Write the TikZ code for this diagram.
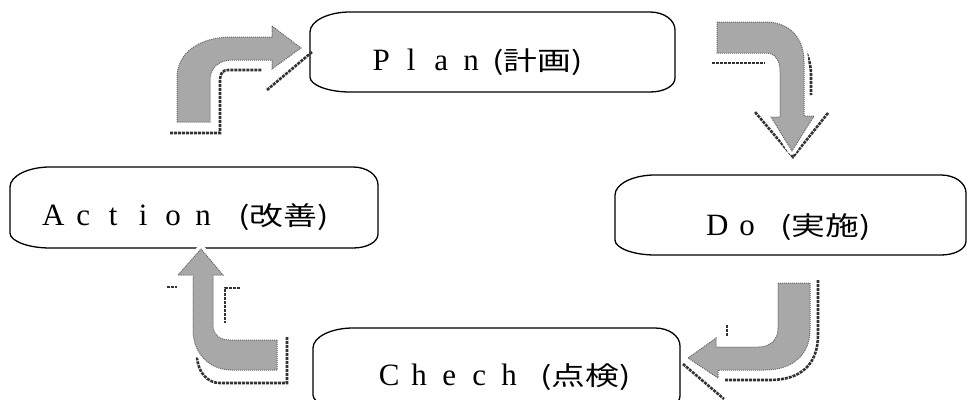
\documentclass[tikz,border=0pt]{standalone}
\usepackage{fontspec}
\usepackage{graphicx}
\setmainfont{Liberation Serif}
\newfontfamily\jp{Noto Sans CJK JP}
\newcommand\cel[1]{\makebox[30pt]{#1}}
\newcommand\kj[1]{{\jp\fontsize{26}{30}\selectfont\scalebox{1.3}[1]{#1}}}
\newcommand\capsule[4]{%
  \draw[boxline] (#1,#2+20) .. controls +(0,-11) and +(-22,0) .. (#1+40,#2)
    -- (#3-25,#2) .. controls +(14,0) and +(0,-10) .. (#3,#2+18)
    -- (#3,#4-14) .. controls +(0,8) and +(14,0) .. (#3-25,#4)
    -- (#1+40,#4) .. controls +(-22,0) and +(0,8) .. (#1,#4-15) -- cycle;}
\tikzset{
  boxline/.style={draw=black, line width=1.3pt, fill=white},
  lbl/.style={inner sep=0pt, anchor=base west, font=\fontsize{31}{34}\selectfont},
  shadowline/.style={draw=black!80, line width=2.6pt, dash pattern=on 3pt off 1pt},
  bigarrow/.style={fill=gray!68, draw=black!60, densely dotted, line width=1pt,
    preaction={draw=white, solid, line width=8pt, line join=round}},
}
\begin{document}
\begin{tikzpicture}[x=1pt,y=-1pt]
\path[use as bounding box] (0,0) rectangle (968,399);
\clip (0,0) rectangle (968,399);
\fill[white] (0,0) rectangle (968,399);

% boxes
\capsule{310}{12}{675}{92}
\capsule{10}{167}{378}{248}
\capsule{615}{175}{966}{255}
\capsule{313}{328}{680}{410}

% labels
\node[lbl] (plan) at (366,70) {\cel{P}\cel{l}\cel{a}\cel{n}\hspace{6pt}\kj{(計画)}};
\node[lbl] (act) at (38,225) {\cel{A}\cel{c}\cel{t}\cel{i}\cel{o}\cel{n}\hspace{20pt}\kj{(改善)}};
\node[lbl] (do) at (702,235) {\cel{D}\cel{o}\hspace{18pt}\kj{(実施)}};
\node[lbl] (chk) at (374,385) {\cel{C}\cel{h}\cel{e}\cel{c}\cel{h}\hspace{16pt}\kj{(点検)}};

% shadows
\draw[shadowline] (170,133) -- (220,133) -- (220,80) .. controls (220,73) and (223,70) .. (228,70) -- (262,70);
\draw[shadowline] (267,90) -- (312,52);
\draw[shadowline] (712,63) -- (765,63);
\draw[shadowline] (805,50) .. controls (809,58) and (811,66) .. (811,75) -- (811,95);
\draw[shadowline] (828,113) -- (793,157) -- (755,112);
\draw[shadowline] (818,280) -- (818,335) .. controls (818,365) and (800,380) .. (770,380) -- (725,380);
\draw[shadowline] (683,364) -- (724,399);
\draw[shadowline] (727,325) -- (727,337);
\draw[shadowline] (167,287) -- (177,287);
\draw[shadowline] (240,288) -- (225,288) -- (225,323);
\draw[shadowline] (287,337) -- (287,383) -- (220,383) .. controls (207,383) and (198,372) .. (197,357);

% arrows
\draw[bigarrow] (177,122) -- (177,78) .. controls (177,52) and (200,37) .. (232,37) -- (272,37)
  -- (272,26) -- (301,48) -- (272,69) -- (272,60) -- (232,60)
  .. controls (219,60) and (210,68) .. (210,80) -- (210,122) -- cycle;
\draw[bigarrow] (717,22) -- (765,22) .. controls (790,22) and (804,38) .. (804,62) -- (804,116)
  -- (814,116) -- (792,151) -- (771,117) -- (780,117) -- (780,72)
  .. controls (780,60) and (775,53) .. (766,53) -- (717,53) -- cycle;
\draw[bigarrow] (778,283) -- (810,283) -- (810,330) .. controls (810,355) and (792,370) .. (765,370)
  -- (718,370) -- (718,378) -- (688,358) -- (716,338) -- (716,347) -- (758,347)
  .. controls (770,347) and (778,340) .. (778,328) -- cycle;
\draw[bigarrow] (277,340) -- (277,370) -- (232,370) .. controls (208,370) and (193,352) .. (193,330)
  -- (193,275) -- (178,275) -- (201,249) -- (223,275) -- (213,275) -- (213,325)
  .. controls (213,335) and (220,340) .. (230,340) -- cycle;
\end{tikzpicture}
\end{document}
